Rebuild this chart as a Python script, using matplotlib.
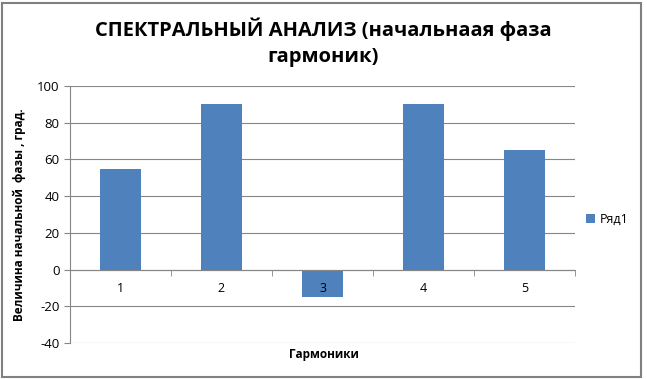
import numpy as np
import matplotlib.pyplot as plt
from matplotlib.patches import Rectangle

# Данные: начальная фаза гармоник
harmonics = ['1', '2', '3', '4', '5']
phase = [55, 90, -15, 90, 65]
series_name = 'Ряд1'

plt.rcParams['font.family'] = ['Open Sans', 'DejaVu Sans']
plt.rcParams['axes.unicode_minus'] = False

fig = plt.figure(figsize=(6.47, 3.79), dpi=100)
ax = fig.add_axes([0.108, 0.095, 0.781, 0.678])

x = np.arange(len(harmonics))
ax.bar(x, phase, width=0.4, color='#4F81BD', label=series_name, zorder=2)

ax.set_xlim(-0.5, len(harmonics) - 0.5)
ax.set_ylim(-40, 100)
ax.set_yticks(np.arange(-40, 101, 20))
ax.grid(axis='y', color='#868686', linewidth=0.8)
ax.yaxis.set_zorder(1)
ax.xaxis.set_zorder(4)

# ось X проходит через ноль
ax.spines['bottom'].set_position(('data', 0))
ax.spines['bottom'].set_color('#868686')
ax.spines['left'].set_color('#868686')
ax.spines['top'].set_visible(False)
ax.spines['right'].set_visible(False)
ax.set_xticks(x)
ax.set_xticklabels(harmonics, fontsize=9)
ax.set_xticks(np.arange(-0.5, len(harmonics)), minor=True)
ax.tick_params(axis='x', which='major', length=0, pad=9)
ax.tick_params(axis='x', which='minor', length=4, color='#868686')
ax.tick_params(axis='y', length=4, color='#868686', labelsize=9.5)

ax.set_ylabel('Величина начальной  фазы , град.', fontsize=8.5, fontweight='bold', labelpad=8)
fig.text(0.50, 0.055, 'Гармоники', fontsize=8.5, fontweight='bold', ha='center')

fig.suptitle('СПЕКТРАЛЬНЫЙ АНАЛИЗ (начальнаая фаза\nгармоник)', fontsize=14.5,
             fontweight='bold', y=0.955, linespacing=1.4)

ax.legend(loc='center left', bbox_to_anchor=(1.0, 0.48), frameon=False,
          fontsize=9, handlelength=0.7, handleheight=0.7, handletextpad=0.4)

fig.patches.append(Rectangle((0.003, 0.006), 0.988, 0.985, transform=fig.transFigure,
                             fill=False, edgecolor='#808080', linewidth=1.5))

fig.savefig('out.png', dpi=100)
